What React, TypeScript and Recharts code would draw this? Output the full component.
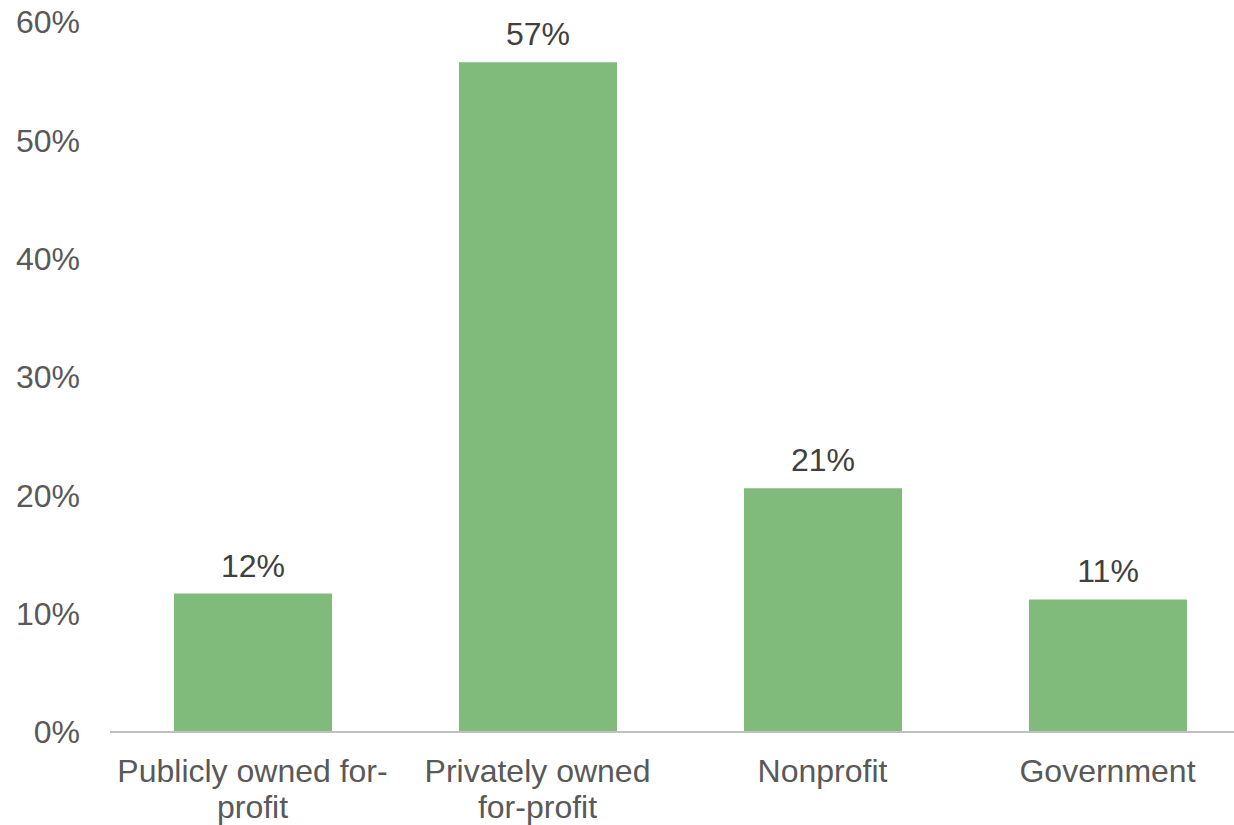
import React from 'react';
import { BarChart, Bar, XAxis, YAxis, LabelList } from 'recharts';

// values (share of total, %)
const categories = ['Publicly owned for-\nprofit', 'Privately owned\nfor-profit', 'Nonprofit', 'Government'];
const shares = [11.7, 56.6, 20.6, 11.2];
const shareLabels = ['12%', '57%', '21%', '11%'];
const yTicks = [0, 10, 20, 30, 40, 50, 60];

const data = categories.map((name, i) => ({ name, value: shares[i], label: shareLabels[i] }));

const FONT = '"Liberation Sans", Arial, sans-serif';

const CategoryTick = (props: any) => {
  const { x, y, payload } = props;
  const lines = String(payload.value).split('\n');
  return (
    <text x={x} y={y} textAnchor="middle" fill="#595959" fontSize={32} fontFamily={FONT}>
      {lines.map((line, i) => (
        <tspan key={i} x={x} dy={i === 0 ? 50 : 36}>
          {line}
        </tspan>
      ))}
    </text>
  );
};

const App = () => {
  return (
    <div style={{ position: 'absolute', left: 0, top: 0, width: 1234, height: 825, overflow: 'hidden', background: '#fff' }}>
      <BarChart
        width={1250}
        height={825}
        data={data}
        margin={{ top: 22, right: 0, left: 0, bottom: 0 }}
      >
        <XAxis
          dataKey="name"
          height={93}
          tickLine={false}
          tickSize={0}
          tickMargin={0}
          axisLine={{ stroke: '#BFBFBF', strokeWidth: 2 }}
          tick={<CategoryTick />}
          interval={0}
        />
        <YAxis
          width={110}
          domain={[0, 60]}
          ticks={yTicks}
          tickFormatter={(v) => `${v}%`}
          axisLine={false}
          tickLine={false}
          tickSize={0}
          tickMargin={30}
          tick={{ fill: '#595959', fontSize: 32, fontFamily: FONT }}
        />
        <Bar dataKey="value" fill="#81BB7C" barSize={158} isAnimationActive={false}>
          <LabelList
            dataKey="label"
            position="top"
            offset={17}
            fill="#404040"
            fontSize={32}
            fontFamily={FONT}
          />
        </Bar>
      </BarChart>
    </div>
  );
};

export default App;
